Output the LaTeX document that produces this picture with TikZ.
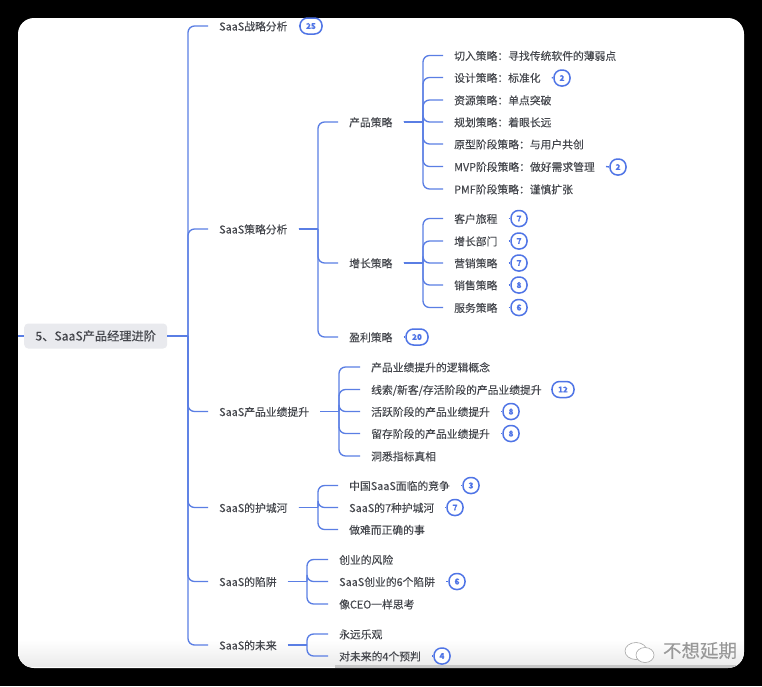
\documentclass[tikz,border=0pt]{standalone}
\usepackage{fontspec}
\setmainfont{Noto Sans CJK SC}[FakeBold=0.12]
\usetikzlibrary{fadings,shapes.geometric}
\definecolor{linkblue}{HTML}{5A7EE4}
\definecolor{inkgray}{HTML}{45474D}
\definecolor{rootfill}{HTML}{E9EAEE}
\definecolor{badgeblue}{HTML}{4F74E6}
\tikzset{
  topic/.style={anchor=west,inner xsep=11pt,inner ysep=0pt,text height=11pt,text depth=2pt,text=inkgray,font=\fontsize{10.8}{12}\selectfont},
  rootbox/.style={anchor=west,fill=rootfill,rounded corners=4pt,minimum width=143pt,minimum height=25pt,inner sep=0pt,text height=11pt,text depth=2pt,text=inkgray,font=\fontsize{12.2}{14}\selectfont},
  link/.style={draw=linkblue,line width=1.35pt,rounded corners=6.5pt},
  trunk/.style={draw=linkblue,line width=1.35pt},
  badge/.style={draw=badgeblue,line width=1.5pt,rounded corners=7.5pt,fill=white,minimum height=16pt,minimum width=16pt,inner sep=0pt,text=badgeblue,font=\fontsize{8}{8}\bfseries\selectfont},
  widebadge/.style={badge,minimum width=22pt},
  stub/.style={draw=badgeblue,line width=1.35pt},
}
\newcommand{\conn}[3]{\draw[trunk] (#1.east) -- (#1.east -| #2);\draw[link] (#1.east -| #2) -- (#3.west -| #2) -- (#3.west);}
\newcommand{\tag}[2]{\draw[stub] (#1.east) -- (#2.west);}
\begin{document}
\begin{tikzpicture}[x=1pt,y=-1pt]
\useasboundingbox (0,0) rectangle (762,686);
\fill[black] (0,0) rectangle (762,686);
\fill[white,rounded corners=16pt] (18,18) rectangle (744,668);
\begin{scope}
\clip[rounded corners=16pt] (18,18) rectangle (744,668);
\shade[top color=white,bottom color=black!8] (18,640) rectangle (744,666);
\fill[black!22] (335,665) rectangle (744,668);
\end{scope}
% buses
\coordinate (busA) at (188,0);
\coordinate (busB) at (318,0);
\coordinate (busC) at (423,0);
\coordinate (busD) at (339,0);
\coordinate (busE) at (307,0);
\coordinate (edge) at (18,336);
% root and level 1
\node[rootbox] (root) at (24,336) {5、SaaS产品经理进阶};
\node[topic] (war) at (208,26) {SaaS战略分析};
\node[topic] (tac) at (208,229) {SaaS策略分析};
\node[topic] (perf) at (208,411.5) {SaaS产品业绩提升};
\node[topic] (moat) at (208,507.5) {SaaS的护城河};
\node[topic] (trap) at (208,581.5) {SaaS的陷阱};
\node[topic] (fut) at (208,645) {SaaS的未来};
% level 2 under tactics
\node[topic] (prod) at (338,122) {产品策略};
\node[topic] (grow) at (338,263) {增长策略};
\node[topic] (prof) at (338,337) {盈利策略};
% product
\node[topic] (p1) at (443,55.5) {切入策略：寻找传统软件的薄弱点};
\node[topic] (p2) at (443,77.5) {设计策略：标准化};
\node[topic] (p3) at (443,100) {资源策略：单点突破};
\node[topic] (p4) at (443,122) {规划策略：着眼长远};
\node[topic] (p5) at (443,144) {原型阶段策略：与用户共创};
\node[topic] (p6) at (443,166.5) {MVP阶段策略：做好需求管理};
\node[topic] (p7) at (443,189) {PMF阶段策略：谨慎扩张};
% growth
\node[topic] (g1) at (443,218.5) {客户旅程};
\node[topic] (g2) at (443,241) {增长部门};
\node[topic] (g3) at (443,263) {营销策略};
\node[topic] (g4) at (443,285) {销售策略};
\node[topic] (g5) at (443,307.5) {服务策略};
% performance
\node[topic] (f1) at (360,367) {产品业绩提升的逻辑概念};
\node[topic] (f2) at (360,389.5) {线索/新客/存活阶段的产品业绩提升};
\node[topic] (f3) at (360,411.5) {活跃阶段的产品业绩提升};
\node[topic] (f4) at (360,433.5) {留存阶段的产品业绩提升};
\node[topic] (f5) at (360,456) {洞悉指标真相};
% moat
\node[topic] (m1) at (338,485.5) {中国SaaS面临的竞争};
\node[topic] (m2) at (338,507.5) {SaaS的7种护城河};
\node[topic] (m3) at (338,529.5) {做难而正确的事};
% trap
\node[topic] (t1) at (328,559.5) {创业的风险};
\node[topic] (t2) at (328,581.5) {SaaS创业的6个陷阱};
\node[topic] (t3) at (328,604) {像CEO一样思考};
% future
\node[topic] (u1) at (328,634) {永远乐观};
\node[topic] (u2) at (328,656) {对未来的4个预判};
% badges
\node[widebadge] (bwar) at (311,26) {25};
\node[badge] (bp2) at (562,78) {2};
\node[badge] (bp6) at (618,167) {2};
\node[badge] (bg1) at (519,218.5) {7};
\node[badge] (bg2) at (519,241) {7};
\node[badge] (bg3) at (519,263) {7};
\node[badge] (bg4) at (519,285) {8};
\node[badge] (bg5) at (519,307.5) {6};
\node[widebadge] (bprof) at (417,337) {20};
\node[widebadge] (bf2) at (563,389.5) {12};
\node[badge] (bf3) at (511,411.5) {8};
\node[badge] (bf4) at (511,433.5) {8};
\node[badge] (bm1) at (471,485.5) {3};
\node[badge] (bm2) at (455,507.5) {7};
\node[badge] (bt2) at (457,581.5) {6};
\node[badge] (bu2) at (442,656) {4};
% connectors
\draw[trunk] (edge) -- (root.west);
\foreach \c in {war,tac,perf,moat,trap,fut}{\conn{root}{busA}{\c}}
\foreach \c in {prod,grow,prof}{\conn{tac}{busB}{\c}}
\foreach \c in {p1,p2,p3,p4,p5,p6,p7}{\conn{prod}{busC}{\c}}
\foreach \c in {g1,g2,g3,g4,g5}{\conn{grow}{busC}{\c}}
\foreach \c in {f1,f2,f3,f4,f5}{\conn{perf}{busD}{\c}}
\foreach \c in {m1,m2,m3}{\conn{moat}{busB}{\c}}
\foreach \c in {t1,t2,t3}{\conn{trap}{busE}{\c}}
\foreach \c in {u1,u2}{\conn{fut}{busE}{\c}}
\tag{war}{bwar}\tag{p2}{bp2}\tag{p6}{bp6}\tag{g1}{bg1}\tag{g2}{bg2}\tag{g3}{bg3}\tag{g4}{bg4}\tag{g5}{bg5}
\tag{prof}{bprof}\tag{f2}{bf2}\tag{f3}{bf3}\tag{f4}{bf4}\tag{m1}{bm1}\tag{m2}{bm2}\tag{t2}{bt2}\tag{u2}{bu2}
% watermark
\begin{scope}[draw=black!35,line width=0.6pt]
\draw[fill=white] (636,651) ellipse (11pt and 8.5pt);
\draw[fill=white] (645,655) ellipse (9pt and 7.5pt);
\end{scope}
\node[text=black!40,inner sep=0pt,text height=14pt,text depth=3pt,font=\fontsize{18.5}{20}\selectfont] (mark) at (700,652) {不想延期};
\end{tikzpicture}
\end{document}
